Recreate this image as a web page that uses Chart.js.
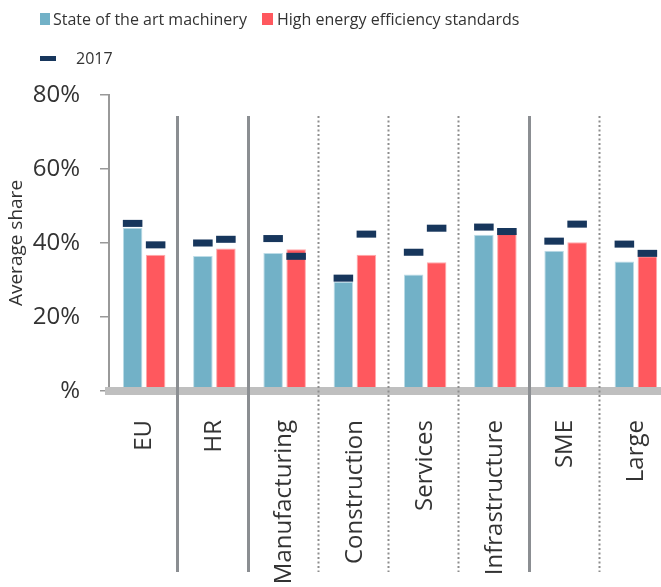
<!DOCTYPE html>
<html>
<head>
<meta charset="utf-8">
<script src="https://cdn.jsdelivr.net/npm/chart.js@4.4.1/dist/chart.umd.min.js"></script>
<style>
  html, body { margin: 0; padding: 0; background: #fff; overflow: hidden; }
  #wrap { position: relative; width: 672px; height: 587px; }
  #legend { position: absolute; left: 0; top: 0; font-family: 'Open Sans', sans-serif; font-size: 16px; color: #333; }
  .lg-item { position: absolute; white-space: nowrap; display: flex; align-items: center; height: 20px; line-height: 20px; }
  .lg-box { display: inline-block; }
</style>
</head>
<body>
<div id="wrap">
  <canvas id="chart"></canvas>
  <div id="legend"></div>
</div>
<script>
// groups of categories: solid lines between groups, dotted lines inside a group
const groups = [
  ['EU'],
  ['HR'],
  ['Manufacturing', 'Construction', 'Services', 'Infrastructure'],
  ['SME', 'Large']
];
const categories = groups.flat();

const machinery = [44.1, 36.5, 37.3, 29.5, 31.5, 42.2, 37.9, 35.0];
const efficiency = [36.8, 38.5, 38.3, 36.8, 34.8, 42.8, 40.2, 36.4];
const machinery2017 = [45.3, 40.0, 41.2, 30.5, 37.5, 44.3, 40.5, 39.7];
const efficiency2017 = [39.5, 41.0, 36.4, 42.4, 44.0, 43.1, 45.1, 37.2];

const yTicks = [0, 20, 40, 60, 80];

const BLUE = '#72b1c7';
const RED = '#ff585e';
const NAVY = '#17365c';
const FONT = "'Open Sans', sans-serif";
const MARK_HALF = 0.95; // half height of the 2017 dash, in % units

function groupIndex(i) {
  let n = 0;
  for (let g = 0; g < groups.length; g++) {
    n += groups[g].length;
    if (i < n) return g;
  }
  return groups.length - 1;
}

function toDash(values) {
  return values.map(v => [v - MARK_HALF, v + MARK_HALF]);
}

const separators = {
  id: 'separators',
  afterDraw(chart) {
    const { ctx, chartArea } = chart;
    const x = chart.scales.x;
    const top = chartArea.top + 21;
    const bottom = chartArea.bottom + 181;
    ctx.save();
    for (let i = 1; i < categories.length; i++) {
      const px = Math.round((x.getPixelForValue(i - 1) + x.getPixelForValue(i)) / 2 - 2);
      ctx.beginPath();
      if (groupIndex(i) !== groupIndex(i - 1)) {
        ctx.setLineDash([]);
        ctx.lineWidth = 3;
        ctx.strokeStyle = '#8b8e92';
      } else {
        ctx.setLineDash([2, 2.5]);
        ctx.lineWidth = 2;
        ctx.strokeStyle = '#8e8e8e';
      }
      ctx.moveTo(px + 0.5, top);
      ctx.lineTo(px + 0.5, bottom);
      ctx.stroke();
    }
    ctx.restore();
  }
};

function buildLegend() {
  const el = document.getElementById('legend');
  const items = [
    { label: 'State of the art machinery', color: BLUE, left: 40, top: 9, w: 10, h: 12, gap: 3 },
    { label: 'High energy efficiency standards', color: RED, left: 262, top: 9, w: 11, h: 12, gap: 4 },
    { label: '2017', color: NAVY, left: 40, top: 48, w: 16, h: 5, gap: 20 }
  ];
  items.forEach(it => {
    const d = document.createElement('div');
    d.className = 'lg-item';
    d.style.left = it.left + 'px';
    d.style.top = it.top + 'px';
    const box = document.createElement('span');
    box.className = 'lg-box';
    box.style.width = it.w + 'px';
    box.style.height = it.h + 'px';
    box.style.background = it.color;
    box.style.marginRight = it.gap + 'px';
    const t = document.createElement('span');
    t.textContent = it.label;
    d.appendChild(box);
    d.appendChild(t);
    el.appendChild(d);
  });
}

buildLegend();

new Chart(document.getElementById('chart'), {
  type: 'bar',
  data: {
    labels: categories,
    datasets: [
      {
        label: '2017',
        data: toDash(machinery2017),
        stack: 'a',
        backgroundColor: NAVY,
        borderWidth: 0,
        order: 0
      },
      {
        label: '2017 (efficiency)',
        data: toDash(efficiency2017),
        stack: 'b',
        backgroundColor: NAVY,
        borderWidth: 0,
        order: 0
      },
      {
        label: 'State of the art machinery',
        data: machinery,
        stack: 'a',
        backgroundColor: BLUE,
        borderColor: '#bcdce7',
        borderWidth: { top: 1, left: 1, right: 1, bottom: 0 },
        order: 1
      },
      {
        label: 'High energy efficiency standards',
        data: efficiency,
        stack: 'b',
        backgroundColor: RED,
        borderColor: '#ffa9ac',
        borderWidth: { top: 1, left: 1, right: 1, bottom: 0 },
        order: 1
      }
    ]
  },
  options: {
    responsive: true,
    maintainAspectRatio: false,
    animation: false,
    categoryPercentage: 0.655,
    barPercentage: 0.85,
    layout: { padding: { top: 95, right: 1, left: 0, bottom: 0 } },
    plugins: {
      legend: { display: false },
      tooltip: { enabled: false }
    },
    scales: {
      x: {
        stacked: true,
        afterFit: (scale) => {
          scale.height = 196;
          scale.paddingLeft = 0;
          scale.paddingRight = 0;
        },
        grid: { display: false, drawTicks: false },
        border: { display: true, color: '#bfbfbf', width: 8, z: 1 },
        ticks: {
          color: '#333',
          font: { family: FONT, size: 24 },
          minRotation: 90,
          maxRotation: 90,
          autoSkip: false,
          padding: 29
        }
      },
      y: {
        stacked: false,
        min: 0,
        max: 80,
        afterFit: (scale) => { scale.width = 109; },
        afterBuildTicks: (scale) => { scale.ticks = yTicks.map(v => ({ value: v })); },
        title: {
          display: true,
          text: 'Average share',
          color: '#333',
          font: { family: FONT, size: 19 },
          padding: { top: 5, bottom: 0 }
        },
        grid: { drawOnChartArea: false, drawTicks: true, tickLength: 9, color: '#999', lineWidth: 1.5 },
        border: { display: true, color: '#999', width: 2 },
        ticks: {
          color: '#333',
          font: { family: FONT, size: 24 },
          padding: 20,
          callback: (v) => v === 0 ? '%' : v + '%'
        }
      }
    }
  },
  plugins: [separators]
});
</script>
</body>
</html>
